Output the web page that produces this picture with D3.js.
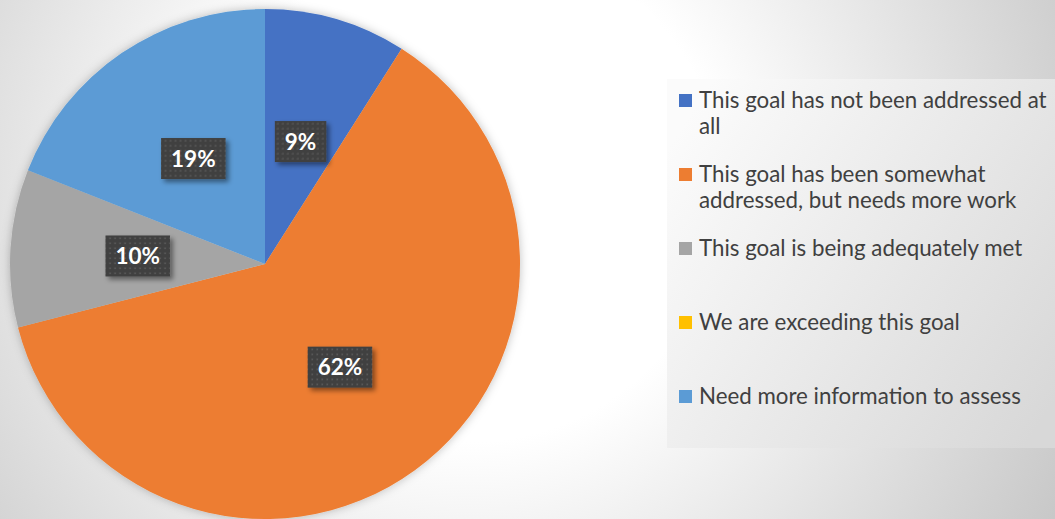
<!DOCTYPE html>
<html>
<head>
<meta charset="utf-8">
<script src="https://cdn.jsdelivr.net/npm/d3@7"></script>
<style>
  html, body { margin: 0; padding: 0; background: #fff; }
  svg { display: block; }
</style>
</head>
<body>
<svg id="chart" width="1055" height="519"></svg>
<script>
// ---- data ----
const categories = [
  "This goal has not been addressed at all",
  "This goal has been somewhat addressed, but needs more work",
  "This goal is being adequately met",
  "We are exceeding this goal",
  "Need more information to assess"
];
const values = [9, 62, 10, 0, 19];
const colors = ["#4472C4", "#ED7D31", "#A5A5A5", "#FFC000", "#5B9BD5"];

// ---- layout ----
const W = 1055, H = 519;
const cx = 265, cy = 264, R = 255;
const svg = d3.select("#chart");
const defs = svg.append("defs");

// background gradient
const bg = defs.append("radialGradient").attr("id", "bgGrad")
  .attr("gradientUnits", "userSpaceOnUse")
  .attr("cx", 470).attr("cy", 190).attr("r", 700);
bg.append("stop").attr("offset", "0").attr("stop-color", "#ffffff");
bg.append("stop").attr("offset", "0.36").attr("stop-color", "#ffffff");
bg.append("stop").attr("offset", "1").attr("stop-color", "#c4c4c4");
svg.append("rect").attr("width", W).attr("height", H).attr("fill", "url(#bgGrad)");

// legend background gradient
const lg = defs.append("linearGradient").attr("id", "legGrad")
  .attr("gradientUnits", "userSpaceOnUse")
  .attr("x1", 667).attr("y1", 150).attr("x2", 1055).attr("y2", 400);
lg.append("stop").attr("offset", "0").attr("stop-color", "#fbfbfb");
lg.append("stop").attr("offset", "1").attr("stop-color", "#d8d8d8");

// filters
const pf = defs.append("filter").attr("id", "pieShadow")
  .attr("x", "-20%").attr("y", "-20%").attr("width", "140%").attr("height", "140%");
pf.append("feDropShadow").attr("dx", 0).attr("dy", 0).attr("stdDeviation", 5)
  .attr("flood-color", "#000").attr("flood-opacity", 0.25);

const lf = defs.append("filter").attr("id", "lblShadow")
  .attr("x", "-30%").attr("y", "-30%").attr("width", "170%").attr("height", "170%");
lf.append("feDropShadow").attr("dx", 3).attr("dy", 3).attr("stdDeviation", 2.5)
  .attr("flood-color", "#000").attr("flood-opacity", 0.45);

// dotted pattern for label boxes
const pat = defs.append("pattern").attr("id", "dots")
  .attr("patternUnits", "userSpaceOnUse").attr("width", 5).attr("height", 5);
pat.append("rect").attr("width", 5).attr("height", 5).attr("fill", "#404040");
pat.append("rect").attr("x", 1.5).attr("y", 1.5).attr("width", 1.6).attr("height", 1.6).attr("fill", "#5c5c5c");

// ---- pie ----
const total = d3.sum(values);
const pie = d3.pie().sort(null).value(d => d.value);
const data = categories.map((c, i) => ({ cat: c, value: values[i], color: colors[i] }));
const arcs = pie(data);
const arc = d3.arc().innerRadius(0).outerRadius(R);
const labelArc = d3.arc().innerRadius(R * 0.5).outerRadius(R * 0.5);

const g = svg.append("g").attr("transform", `translate(${cx},${cy})`);
g.append("g").attr("filter", "url(#pieShadow)")
  .selectAll("path").data(arcs.filter(d => d.data.value > 0)).join("path")
  .attr("d", arc).attr("fill", d => d.data.color);

// data labels
const fmt = v => Math.round(v / total * 100) + "%";
const lbl = g.selectAll("g.lbl").data(arcs.filter(d => d.data.value > 0)).join("g")
  .attr("class", "lbl")
  .attr("transform", d => { const [x, y] = labelArc.centroid(d); return `translate(${x},${y})`; });
lbl.each(function(d) {
  const sel = d3.select(this);
  const t = sel.append("text")
    .attr("text-anchor", "middle").attr("dy", "0.36em")
    .attr("font-family", "Lato, 'Noto Sans', sans-serif")
    .attr("font-weight", "bold").attr("font-size", 22.5)
    .attr("fill", "#ffffff").text(fmt(d.data.value));
  const w = t.node().getComputedTextLength();
  const bw = w + 20, bh = 41;
  sel.insert("rect", "text")
    .attr("x", -bw / 2).attr("y", -bh / 2).attr("width", bw).attr("height", bh)
    .attr("fill", "url(#dots)").attr("filter", "url(#lblShadow)");
});

// ---- legend ----
const legend = svg.append("g");
legend.append("rect").attr("x", 667).attr("y", 79).attr("width", W - 667).attr("height", 369)
  .attr("fill", "url(#legGrad)");
const ly = d3.scalePoint().domain(categories).range([108, 404]);
const maxLineW = 352;
const items = legend.selectAll("g.item").data(data).join("g").attr("class", "item")
  .attr("transform", d => `translate(0,${ly(d.cat)})`);
items.append("rect").attr("x", 679).attr("y", -14).attr("width", 13).attr("height", 13)
  .attr("fill", d => d.color);
items.each(function(d) {
  const t = d3.select(this).append("text")
    .attr("x", 699).attr("y", 0)
    .attr("font-family", "Lato, 'Noto Sans', sans-serif")
    .attr("font-size", 22.3).attr("fill", "#404040");
  const words = d.cat.split(" ");
  let line = [];
  let ts = t.append("tspan").attr("x", 699).attr("dy", 0);
  words.forEach(w => {
    line.push(w);
    ts.text(line.join(" "));
    if (ts.node().getComputedTextLength() > maxLineW && line.length > 1) {
      line.pop();
      ts.text(line.join(" "));
      line = [w];
      ts = t.append("tspan").attr("x", 699).attr("dy", 26).text(w);
    }
  });
});
</script>
</body>
</html>
